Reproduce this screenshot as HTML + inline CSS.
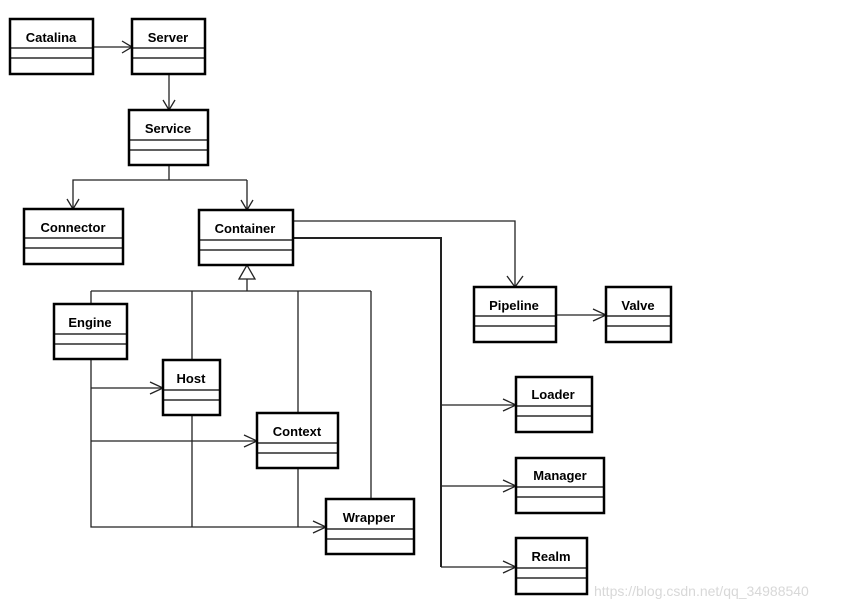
<!DOCTYPE html>
<html><head><style>
body{margin:0;background:#fff;}
svg{display:block}
text{font-family:"Liberation Sans",sans-serif;font-weight:bold;font-size:13px;fill:#000}
</style></head><body>
<svg width="846" height="609" viewBox="0 0 846 609" xmlns="http://www.w3.org/2000/svg">
<g fill="none" stroke="#222" stroke-width="1.3">
<!-- connectors -->
<path d="M93 47H132"/><path d="M122 41L132 47L122 53"/>
<path d="M169 74V110"/><path d="M163 100L169 110L175 100"/>
<path d="M169 165V180H73V209M247 180V210M169 180H247"/>
<path d="M67 199L73 209L79 199M241 200L247 210L253 200"/>
<path d="M247 279V291M91 291H371M91 291V304M192 291V360M298 291V413M371 291V499"/>
<path d="M239 279L247 265L255 279Z" fill="#fff"/>
<path d="M91 359V527H326M192 415V527M298 468V527M91 388H163M91 441H257"/>
<path d="M150 382L163 388L150 394M244 435L257 441L244 447M313 521L326 527L313 533"/>
<path d="M293 221H515V287M507 276L515 287L523 276"/>
<path d="M293 238H441V567" stroke-width="2"/>
<path d="M441 405H516M441 486H516M441 567H516M503 399L516 405L503 411M503 480L516 486L503 492M503 561L516 567L503 573"/>
<path d="M556 315H606M593 309L606 315L593 321"/>
</g>
<g fill="#fff" stroke="#000" stroke-width="2.5">
<rect x="10" y="19" width="83" height="55"/><rect x="132" y="19" width="73" height="55"/>
<rect x="129" y="110" width="79" height="55"/><rect x="24" y="209" width="99" height="55"/>
<rect x="199" y="210" width="94" height="55"/><rect x="54" y="304" width="73" height="55"/>
<rect x="163" y="360" width="57" height="55"/><rect x="257" y="413" width="81" height="55"/>
<rect x="326" y="499" width="88" height="55"/><rect x="474" y="287" width="82" height="55"/>
<rect x="606" y="287" width="65" height="55"/><rect x="516" y="377" width="76" height="55"/>
<rect x="516" y="458" width="88" height="55"/><rect x="516" y="538" width="71" height="56"/>
</g>
<g stroke="#000" stroke-width="1.3">
<path d="M10 48H93M10 58H93M132 48H205M132 58H205M129 140H208M129 150H208M24 238H123M24 248H123M199 240H293M199 250H293M54 334H127M54 344H127M163 390H220M163 400H220M257 443H338M257 453H338M326 529H414M326 539H414M474 316H556M474 326H556M606 316H671M606 326H671M516 406H592M516 416H592M516 487H604M516 497H604M516 568H587M516 578H587"/>
</g>
<g text-anchor="middle">
<text x="51" y="42">Catalina</text><text x="168" y="42">Server</text>
<text x="168" y="133">Service</text><text x="73" y="232">Connector</text>
<text x="245" y="233">Container</text><text x="90" y="327">Engine</text>
<text x="191" y="383">Host</text><text x="297" y="436">Context</text>
<text x="369" y="522">Wrapper</text><text x="514" y="310">Pipeline</text>
<text x="638" y="310">Valve</text><text x="553" y="399">Loader</text>
<text x="560" y="480">Manager</text><text x="551" y="561">Realm</text>
</g>
<text x="594" y="596" style="font-weight:normal;font-size:14px;fill:#d8d8d8">https://blog.csdn.net/qq_34988540</text>
</svg>
</body></html>
